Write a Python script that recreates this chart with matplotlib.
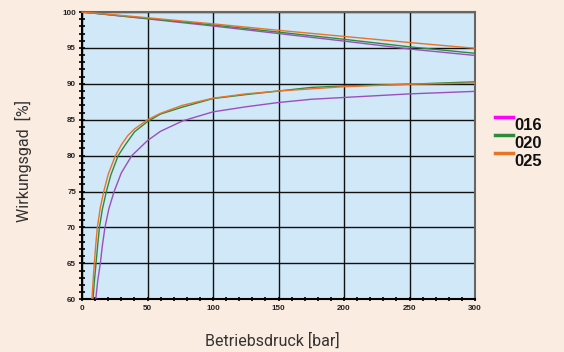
import matplotlib
matplotlib.use("Agg")
import matplotlib.pyplot as plt
from matplotlib.lines import Line2D
from matplotlib.ticker import MultipleLocator

series_labels = ["016", "020", "025"]
line_colors = ["#9b4fbf", "#2e8b3e", "#e8742a"]
legend_colors = ["#ff00ff", "#2e8b3e", "#e8742a"]

# falling curves (upper family)
p_upper = [0, 50, 100, 150, 200, 250, 300]
upper_016 = [100, 99.05, 98.05, 97.0, 95.95, 94.85, 93.95]
upper_020 = [100, 99.1, 98.2, 97.2, 96.2, 95.15, 94.25]
upper_025 = [100, 99.2, 98.35, 97.45, 96.6, 95.75, 94.95]

# rising curves (lower family)
p_016 = [10.5, 12, 14, 15.5, 17.5, 20.5, 24.5, 30, 38, 50, 60, 77, 100, 125, 150, 175, 200, 250, 300]
lower_016 = [60, 62.6, 65, 67.4, 70, 72.6, 75, 77.6, 80, 82.1, 83.4, 84.85, 86.1, 86.8, 87.4, 87.85, 88.1, 88.6, 88.95]
p_020 = [8.4, 9.5, 10.7, 12, 13.3, 15.5, 18.6, 22, 27.6, 33, 40, 50, 60, 76.5, 100, 125, 150, 175, 200, 250, 300]
lower_020 = [60, 62.6, 65, 67.6, 70, 72.5, 75, 77.3, 80, 81.5, 83.3, 84.75, 85.8, 86.75, 87.95, 88.5, 89.0, 89.5, 89.7, 89.95, 90.28]
p_025 = [7.6, 8.5, 9.4, 10.5, 11.7, 14, 16.6, 20, 25.5, 30, 35, 40, 50, 60, 76.5, 100, 125, 150, 200, 250, 300]
lower_025 = [60, 62.7, 65, 67.6, 70, 72.8, 75, 77.4, 80, 81.5, 82.8, 83.7, 85, 85.9, 87.0, 88.0, 88.6, 89.0, 89.6, 89.95, 90.1]

x_label = "Betriebsdruck [bar]"
y_label = "Wirkungsgad  [%]"

bg = "#faece0"
fig = plt.figure(figsize=(5.64, 3.52), dpi=100, facecolor=bg)
ax = fig.add_axes([0.1454, 0.1497, 0.6968, 0.8162])
ax.set_facecolor("#d0e8f8")

uppers = [upper_016, upper_020, upper_025]
lowers = [(p_016, lower_016), (p_020, lower_020), (p_025, lower_025)]
for i in range(3):
    ax.plot(p_upper, uppers[i], color=line_colors[i], lw=1.0, zorder=3)
    ax.plot(lowers[i][0], lowers[i][1], color=line_colors[i], lw=1.0, zorder=3)

ax.set_xlim(0, 300)
ax.set_ylim(60, 100)
ax.xaxis.set_major_locator(MultipleLocator(50))
ax.xaxis.set_minor_locator(MultipleLocator(10))
ax.yaxis.set_major_locator(MultipleLocator(5))
ax.yaxis.set_minor_locator(MultipleLocator(1))
ax.grid(True, which="major", color="#111111", lw=1.0, zorder=1)
ax.set_axisbelow(True)

ax.tick_params(axis="both", which="both", direction="inout", color="black", width=1.2)
ax.tick_params(axis="y", which="both", length=4.5)
ax.tick_params(axis="x", which="both", length=3.5)
ax.tick_params(axis="both", which="major", labelsize=5.8, pad=2)
for lab in ax.get_xticklabels() + ax.get_yticklabels():
    lab.set_fontweight("bold")
    lab.set_fontfamily("Liberation Sans")
    lab.set_color("#222222")

for s in ["left", "bottom"]:
    ax.spines[s].set_color("black")
    ax.spines[s].set_linewidth(1.5)
for s in ["top", "right"]:
    ax.spines[s].set_color("#666666")
    ax.spines[s].set_linewidth(1.5)

ax.set_xlabel(x_label, fontsize=11.5, family="Roboto", color="#333333")
ax.xaxis.set_label_coords(0.483, -0.115)
ax.set_ylabel(y_label, fontsize=11.5, family="Roboto", color="#333333")
ax.yaxis.set_label_coords(-0.128, 0.48)

# legend drawn at the right of the plot
for i, lab in enumerate(series_labels):
    y = 0.667 - i * 0.051
    fig.add_artist(Line2D([0.878, 0.91], [y, y], transform=fig.transFigure,
                          color=legend_colors[i], lw=2.5))
    fig.text(0.912, y - 0.024, lab, fontsize=12, fontweight="bold",
             family="Liberation Sans", color="#111111", va="center", ha="left")

fig.savefig("out.png", dpi=100, facecolor=bg)
